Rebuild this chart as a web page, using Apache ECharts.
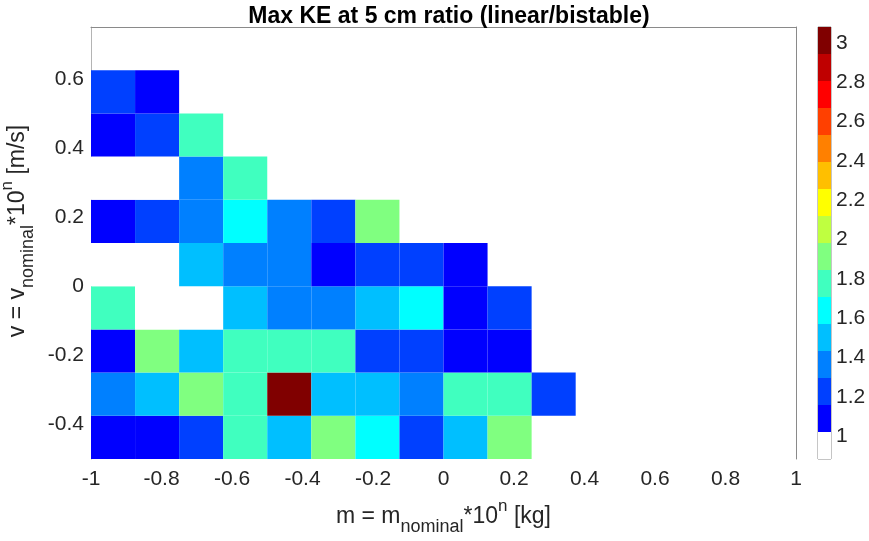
<!DOCTYPE html>
<html>
<head>
<meta charset="utf-8">
<script src="https://cdn.jsdelivr.net/npm/echarts@6/dist/echarts.min.js"></script>
<style>
  html, body { margin: 0; padding: 0; background: #ffffff; }
  #chart { width: 869px; height: 541px; }
</style>
</head>
<body>
<div id="chart"></div>
<script>
// Bin edges (lower/left edge of each cell) for mass and velocity exponents
const mEdges = [-1, -0.875, -0.75, -0.625, -0.5, -0.375, -0.25, -0.125, 0, 0.125, 0.25];
const vEdges = [-0.5, -0.375, -0.25, -0.125, 0, 0.125, 0.25, 0.375, 0.5];
const binSize = 0.125;

// Max KE ratio (linear / bistable), one row per velocity bin, bottom to top
const keRatio = [
  [1.08, 1.10, 1.22, 1.77, 1.49, 1.91, 1.63, 1.24, 1.51, 1.90, null],
  [1.36, 1.50, 1.92, 1.79, 3.08, 1.49, 1.52, 1.38, 1.76, 1.78, 1.21],
  [1.09, 1.90, 1.48, 1.77, 1.80, 1.75, 1.23, 1.25, 1.07, 1.11, null],
  [1.79, 0.96, 1.01, 1.50, 1.35, 1.38, 1.47, 1.65, 1.10, 1.22, null],
  [0.885, 0.99, 1.49, 1.36, 1.39, 1.08, 1.24, 1.21, 1.12, null, null],
  [1.06, 1.25, 1.37, 1.62, 1.35, 1.26, 1.93, null, null, null, null],
  [0.97, 0.94, 1.38, 1.79, null, null, null, null, null, null, null],
  [1.11, 1.22, 1.76, null, null, null, null, null, null, null, null],
  [1.24, 1.09, null, null, null, null, null, null, null, null, null]
];

// Tick labels
const mTicks = [-1, -0.8, -0.6, -0.4, -0.2, 0, 0.2, 0.4, 0.6, 0.8, 1];
const vTicks = [-0.4, -0.2, 0, 0.2, 0.4, 0.6];
const cbarTicks = [1, 1.2, 1.4, 1.6, 1.8, 2, 2.2, 2.4, 2.6, 2.8, 3];

// 16-level jet colormap with the lowest level set to white
const cmap = [
  '#ffffff', '#0000ff', '#0040ff', '#0080ff', '#00bfff', '#00ffff', '#40ffbf', '#80ff80',
  '#bfff40', '#ffff00', '#ffbf00', '#ff8000', '#ff4000', '#ff0000', '#bf0000', '#800000'
];

const cells = [];
keRatio.forEach((row, j) => {
  row.forEach((val, i) => {
    if (val !== null) cells.push([mEdges[i], vEdges[j], val]);
  });
});
const allVals = cells.map(c => c[2]);
const cMin = Math.min(...allVals);
const cMax = Math.max(...allVals);
const step = (cMax - cMin) / cmap.length;

const pieces = cmap.map((color, k) => {
  const p = { gte: cMin + k * step, color: color };
  if (k < cmap.length - 1) p.lt = cMin + (k + 1) * step; else p.lte = cMax + 1e-9;
  return p;
});
const cbarBands = cmap.map((c, k) => [cMin + k * step, cMin + (k + 1) * step, k]);

const FONT = 'Liberation Sans, Arial, Helvetica, sans-serif';
const TXT = '#262626';

const nameRich = {
  a: { fontFamily: FONT, fontSize: 23, color: TXT, lineHeight: 38, verticalAlign: 'middle' },
  s: { fontFamily: FONT, fontSize: 18, color: TXT, lineHeight: 16, verticalAlign: 'bottom' },
  p: { fontFamily: FONT, fontSize: 17, color: TXT, lineHeight: 14, verticalAlign: 'top' }
};

const chart = echarts.init(document.getElementById('chart'), null, { renderer: 'canvas' });

chart.setOption({
  animation: false,
  backgroundColor: '#ffffff',
  title: {
    text: 'Max KE at 5 cm ratio (linear/bistable)',
    left: 444, top: 0, textAlign: 'center',
    textStyle: { fontFamily: FONT, fontWeight: 'bold', fontSize: 23, color: '#000000' }
  },
  grid: [
    { left: 91, top: 27, width: 705, height: 432, containLabel: false, outerBoundsMode: 'none' },
    { left: 818, top: 27, width: 13, height: 432, containLabel: false, outerBoundsMode: 'none',
      show: true, borderColor: '#8c8c8c', borderWidth: 1 }
  ],
  visualMap: {
    type: 'piecewise', show: false, seriesIndex: 0, dimension: 2, pieces: pieces
  },
  xAxis: [
    {
      gridIndex: 0, type: 'value', min: -1, max: 1, position: 'bottom',
      name: '{a|m = m}{s|nominal}{a|*10}{p|n}{a| [kg]}',
      nameLocation: 'middle', nameGap: 39,
      nameTextStyle: { rich: nameRich },
      axisLine: { show: false, onZero: false },
      axisTick: { show: false },
      splitLine: { show: false },
      axisLabel: { customValues: mTicks, margin: 10, fontFamily: FONT, fontSize: 21, color: TXT }
    },
    {
      gridIndex: 0, type: 'value', min: -1, max: 1, position: 'top',
      axisLine: { show: true, onZero: false, lineStyle: { color: '#8a8a8a', width: 1 } },
      axisTick: { show: false }, axisLabel: { show: false }, splitLine: { show: false }
    },
    {
      gridIndex: 1, type: 'value', min: 0, max: 1, show: false
    }
  ],
  yAxis: [
    {
      gridIndex: 0, type: 'value', min: -0.5, max: 0.75, position: 'left',
      name: '{a|v = v}{s|nominal}{a|*10}{p|n}{a| [m/s]}',
      nameLocation: 'middle', nameGap: 51, nameRotate: 90,
      nameTextStyle: { rich: nameRich, padding: [0, 0, 0, 24] },
      axisLine: { show: true, onZero: false, lineStyle: { color: '#b4b4b4', width: 1 } },
      axisTick: { show: false },
      splitLine: { show: false },
      axisLabel: { customValues: vTicks, margin: 7, fontFamily: FONT, fontSize: 21, color: TXT }
    },
    {
      gridIndex: 0, type: 'value', min: -0.5, max: 0.75, position: 'right',
      axisLine: { show: true, onZero: false, lineStyle: { color: '#8a8a8a', width: 1 } },
      axisTick: { show: false }, axisLabel: { show: false }, splitLine: { show: false }
    },
    {
      gridIndex: 1, type: 'value', min: cMin, max: cMax, position: 'right',
      axisLine: { show: false, onZero: false },
      axisTick: { show: true, customValues: cbarTicks, inside: true, length: 3, lineStyle: { color: '#262626' } },
      splitLine: { show: false },
      axisLabel: { customValues: cbarTicks, margin: 5, fontFamily: FONT, fontSize: 21, color: TXT }
    }
  ],
  series: [
    {
      type: 'custom',
      xAxisIndex: 0, yAxisIndex: 0,
      data: cells,
      encode: { x: 0, y: 1 },
      renderItem: function (params, api) {
        const x0 = api.value(0), y0 = api.value(1);
        const tl = api.coord([x0, y0 + binSize]);
        const br = api.coord([x0 + binSize, y0]);
        return {
          type: 'rect',
          shape: { x: tl[0], y: tl[1], width: br[0] - tl[0], height: br[1] - tl[1] },
          style: { fill: api.visual('color'), stroke: null }
        };
      }
    },
    {
      type: 'custom',
      xAxisIndex: 2, yAxisIndex: 2,
      data: cbarBands,
      encode: { y: [0, 1] },
      renderItem: function (params, api) {
        const lo = api.value(0), hi = api.value(1), k = api.value(2);
        const tl = api.coord([0, hi]);
        const br = api.coord([1, lo]);
        return {
          type: 'rect',
          shape: { x: tl[0], y: tl[1], width: br[0] - tl[0], height: br[1] - tl[1] },
          style: { fill: cmap[k] }
        };
      },
      z: 1
    }
  ]
});
</script>
</body>
</html>
